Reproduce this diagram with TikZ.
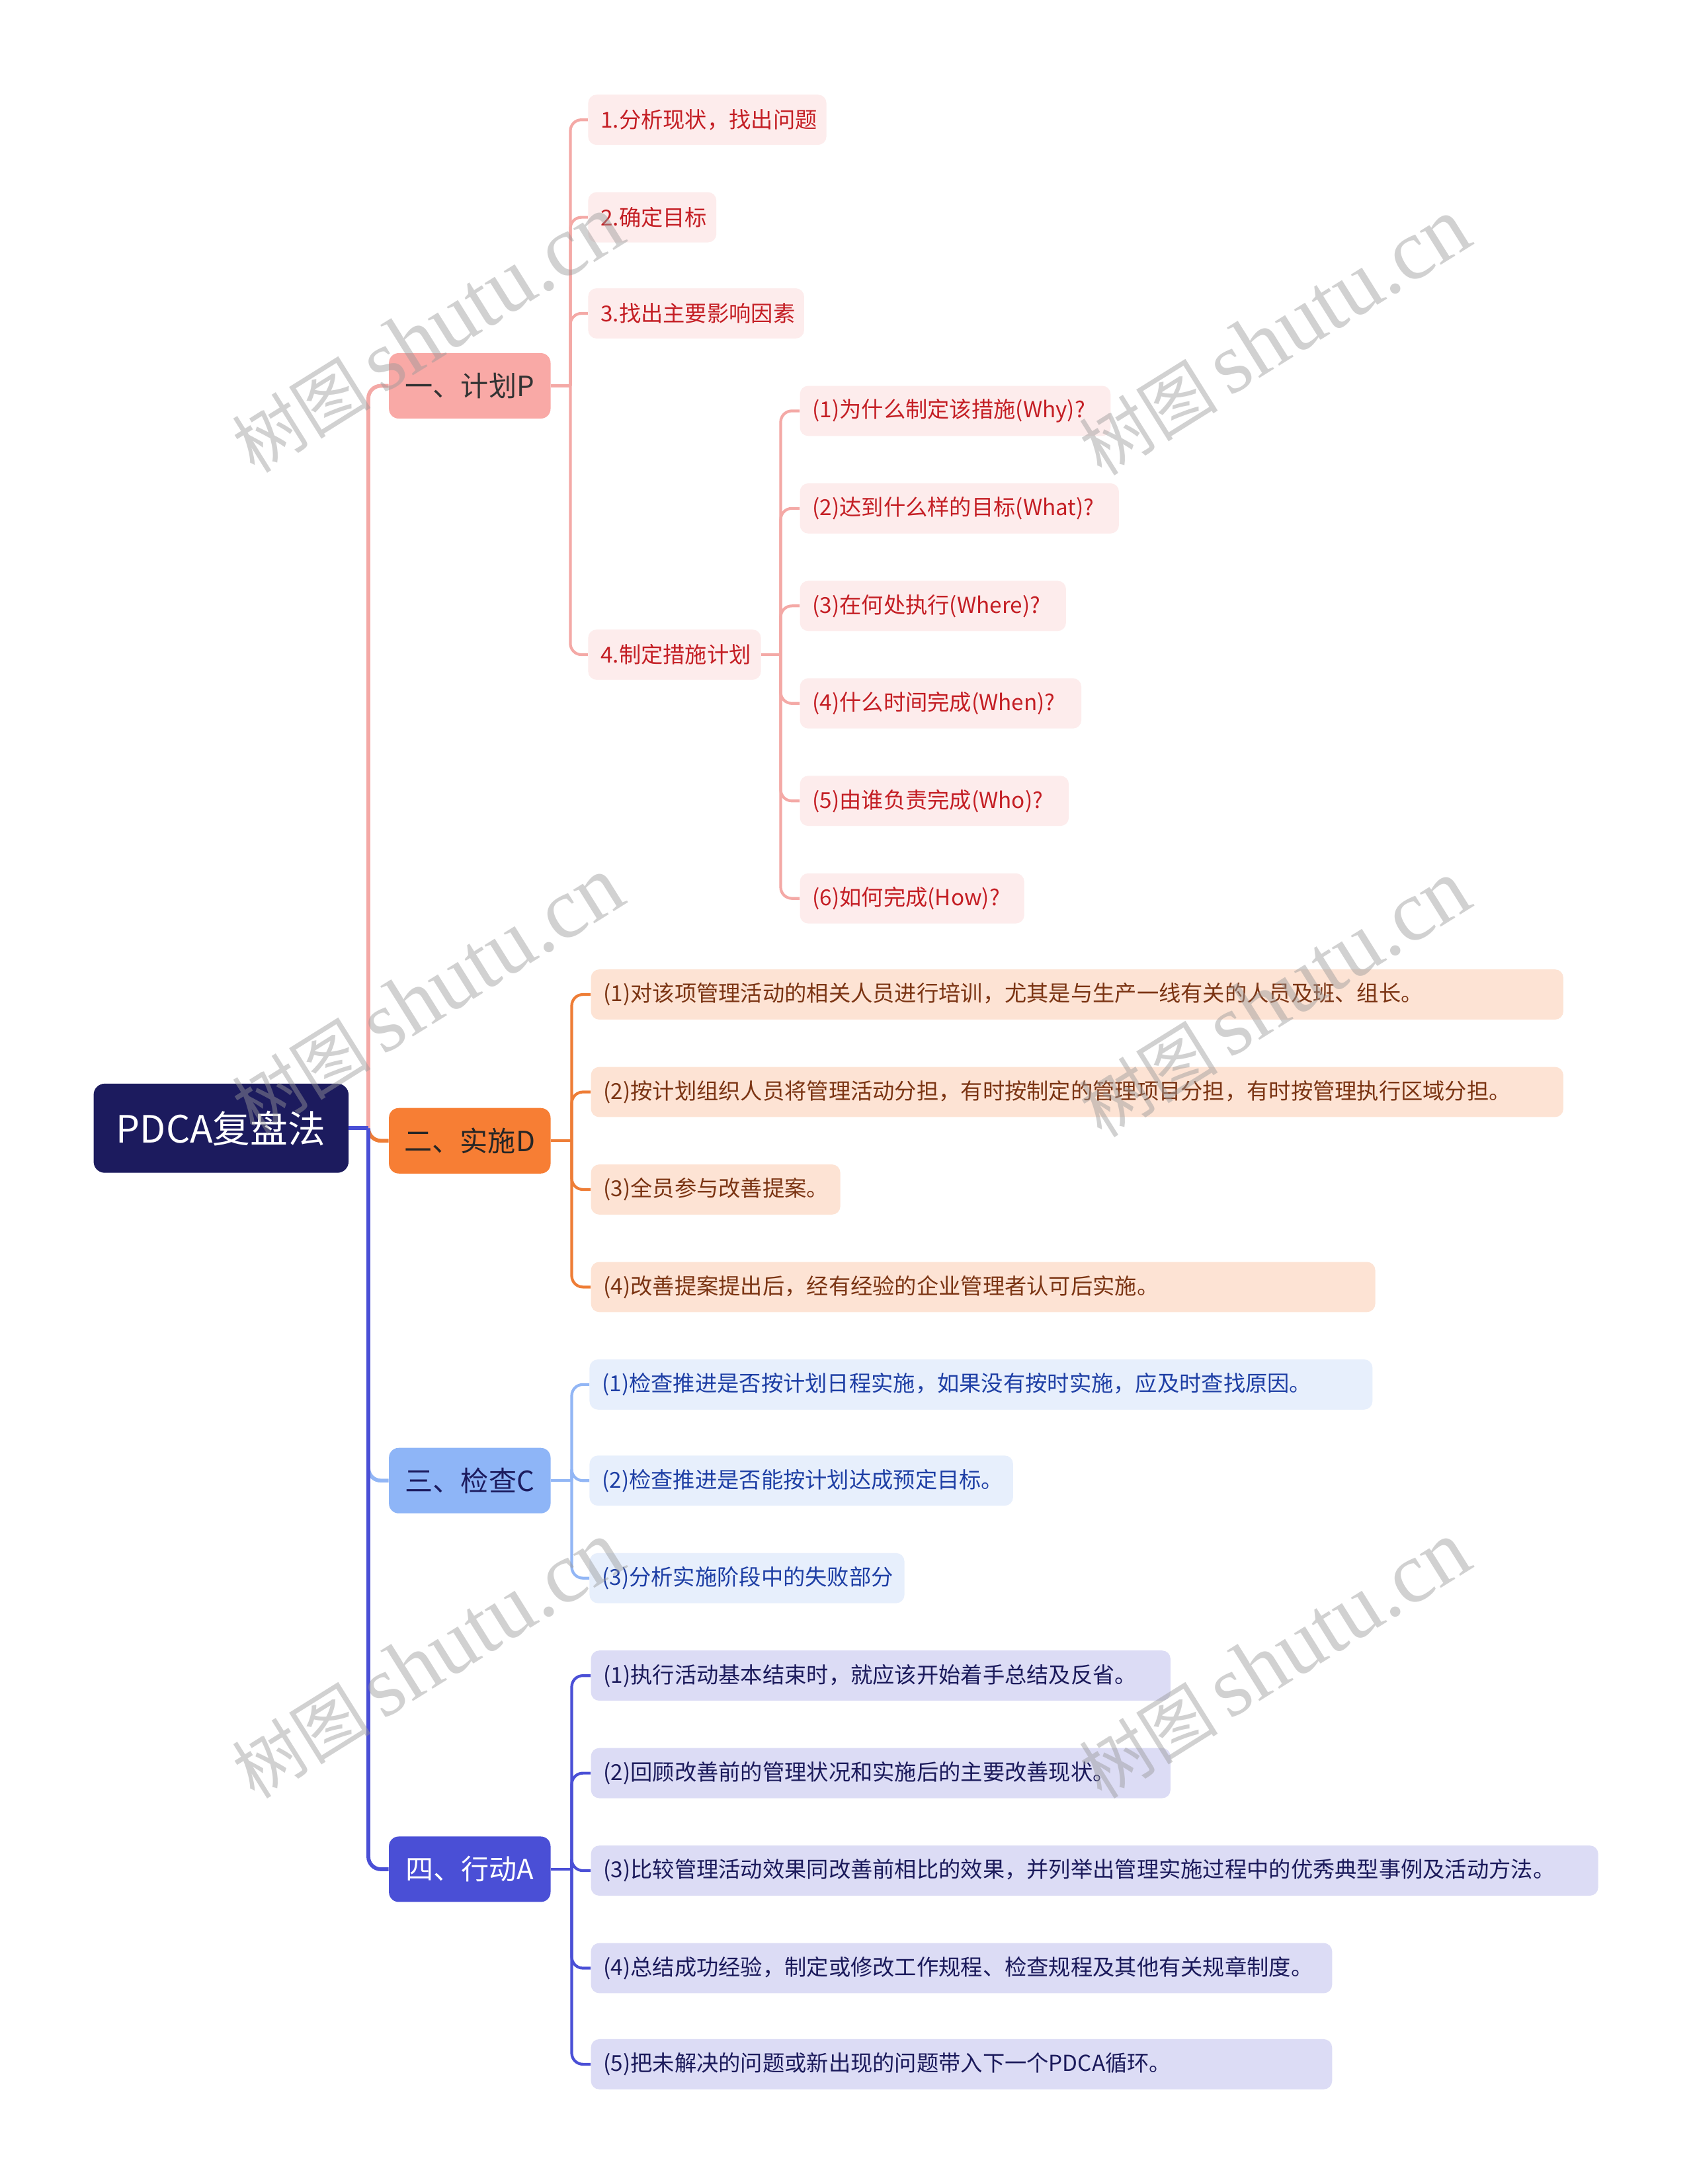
\documentclass[tikz,border=0pt]{standalone}
\usepackage{fontspec}
\setmainfont{Noto Sans CJK SC}
\newfontfamily\wmlatin{Liberation Serif}
\usepackage{tikz}
\usetikzlibrary{positioning, calc}

\definecolor{rootC}{HTML}{1C1B5E}
\definecolor{planC}{HTML}{F9A9A6}
\definecolor{planL}{HTML}{F4A9A6}
\definecolor{planF}{HTML}{FDECEC}
\definecolor{planT}{HTML}{C41E24}
\definecolor{doC}{HTML}{F77E34}
\definecolor{doL}{HTML}{EE7D36}
\definecolor{doF}{HTML}{FDE3D4}
\definecolor{doT}{HTML}{7B3413}
\definecolor{checkC}{HTML}{8EB5F7}
\definecolor{checkL}{HTML}{92B6F5}
\definecolor{checkF}{HTML}{E7EFFC}
\definecolor{checkT}{HTML}{1E3FA5}
\definecolor{actC}{HTML}{4A4FD6}
\definecolor{actL}{HTML}{4A4FD6}
\definecolor{actF}{HTML}{DCDCF5}
\definecolor{actT}{HTML}{1B1A5B}

\tikzstyle{rootnode} = [
  rectangle, rounded corners=8pt, fill=rootC, text=white,
  font=\fontsize{27}{32}\selectfont, minimum width=183pt, minimum height=64pt,
  inner xsep=14pt, anchor=west
]
\tikzstyle{topic} = [
  rectangle, rounded corners=7pt, font=\fontsize{20}{24}\selectfont,
  minimum width=116pt, minimum height=47pt, inner xsep=11pt, anchor=west
]
\tikzstyle{leaf} = [
  rectangle, rounded corners=6pt, font=\fontsize{15.8}{18}\selectfont,
  minimum height=36pt, inner xsep=9pt, inner ysep=0pt, align=left, anchor=west
]
\tikzstyle{planleaf} = [leaf, fill=planF, text=planT]
\tikzstyle{doleaf} = [leaf, fill=doF, text=doT]
\tikzstyle{checkleaf} = [leaf, fill=checkF, text=checkT]
\tikzstyle{actleaf} = [leaf, fill=actF, text=actT]
\tikzstyle{trunk} = [line width=2.75pt, rounded corners=9pt]
\tikzstyle{link} = [line width=2pt, rounded corners=8pt]
\tikzstyle{watermark} = [rotate=32, text=black!40, text opacity=0.45]

\begin{document}
\begin{tikzpicture}[x=1pt, y=-1pt]

  \fill[white] (0,0) rectangle (1215,1568);
  \useasboundingbox (0,0) rectangle (1215,1568);

  % Root and topics
  \node[rootnode] (root) at (67, 810) {PDCA复盘法};
  \node[topic, fill=planC, text=black!80] (plan) at (279, 277) {一、计划P};
  \node[topic, fill=doC, text=black!85] (do) at (279, 819) {二、实施D};
  \node[topic, fill=checkC, text=rootC] (check) at (279, 1063) {三、检查C};
  \node[topic, fill=actC, text=white] (act) at (279, 1342) {四、行动A};

  % Plan
  \node[planleaf, text width=153pt] (p1) at (422, 86) {1.分析现状，找出问题};
  \node[planleaf, text width=74pt] (p2) at (422, 156) {2.确定目标};
  \node[planleaf, text width=137pt] (p3) at (422, 225) {3.找出主要影响因素};
  \node[planleaf, text width=106pt] (p4) at (422, 470) {4.制定措施计划};

  \node[planleaf, text width=205pt] (w1) at (574, 295) {(1)为什么制定该措施(Why)?};
  \node[planleaf, text width=211pt] (w2) at (574, 365) {(2)达到什么样的目标(What)?};
  \node[planleaf, text width=173pt] (w3) at (574, 435) {(3)在何处执行(Where)?};
  \node[planleaf, text width=184pt] (w4) at (574, 505) {(4)什么时间完成(When)?};
  \node[planleaf, text width=175pt] (w5) at (574, 575) {(5)由谁负责完成(Who)?};
  \node[planleaf, text width=143pt] (w6) at (574, 645) {(6)如何完成(How)?};

  % Do
  \node[doleaf, text width=680pt] (d1) at (424, 714) {(1)对该项管理活动的相关人员进行培训，尤其是与生产一线有关的人员及班、组长。};
  \node[doleaf, text width=680pt] (d2) at (424, 784) {(2)按计划组织人员将管理活动分担，有时按制定的管理项目分担，有时按管理执行区域分担。};
  \node[doleaf, text width=161pt] (d3) at (424, 854) {(3)全员参与改善提案。};
  \node[doleaf, text width=545pt] (d4) at (424, 924) {(4)改善提案提出后，经有经验的企业管理者认可后实施。};

  % Check
  \node[checkleaf, text width=544pt] (c1) at (423, 994) {(1)检查推进是否按计划日程实施，如果没有按时实施，应及时查找原因。};
  \node[checkleaf, text width=286pt] (c2) at (423, 1063) {(2)检查推进是否能按计划达成预定目标。};
  \node[checkleaf, text width=208pt] (c3) at (423, 1133) {(3)分析实施阶段中的失败部分};

  % Act
  \node[actleaf, text width=398pt] (a1) at (424, 1203) {(1)执行活动基本结束时，就应该开始着手总结及反省。};
  \node[actleaf, text width=398pt] (a2) at (424, 1273) {(2)回顾改善前的管理状况和实施后的主要改善现状。};
  \node[actleaf, text width=705pt] (a3) at (424, 1343) {(3)比较管理活动效果同改善前相比的效果，并列举出管理实施过程中的优秀典型事例及活动方法。};
  \node[actleaf, text width=514pt] (a4) at (424, 1413) {(4)总结成功经验，制定或修改工作规程、检查规程及其他有关规章制度。};
  \node[actleaf, text width=514pt] (a5) at (424, 1482) {(5)把未解决的问题或新出现的问题带入下一个PDCA循环。};

  % Root branches
  \coordinate (rj) at ($(root.east)+(14,0)$);
  \draw[trunk, planL] (rj) |- (plan.west);
  \draw[trunk, doL] (rj) |- (do.west);
  \draw[trunk, checkL] (rj) |- (check.west);
  \draw[trunk, actL] (rj) |- (act.west);
  \draw[trunk, actL] (root.east) -- (rj);

  % Topic branches
  \coordinate (pj) at ($(plan.east)+(14,0)$);
  \draw[link, planL] (plan.east) -- (pj);
  \foreach \n in {p1,p2,p3,p4}
    \draw[link, planL] (pj) |- (\n.west);

  \coordinate (wj) at ($(p4.east)+(14,0)$);
  \draw[link, planL] (p4.east) -- (wj);
  \foreach \n in {w1,w2,w3,w4,w5,w6}
    \draw[link, planL] (wj) |- (\n.west);

  \coordinate (dj) at ($(do.east)+(15,0)$);
  \draw[link, doL] (do.east) -- (dj);
  \foreach \n in {d1,d2,d3,d4}
    \draw[link, doL] (dj) |- (\n.west);

  \coordinate (cj) at ($(check.east)+(15,0)$);
  \draw[link, checkL] (check.east) -- (cj);
  \foreach \n in {c1,c2,c3}
    \draw[link, checkL] (cj) |- (\n.west);

  \coordinate (aj) at ($(act.east)+(15,0)$);
  \draw[link, actL] (act.east) -- (aj);
  \foreach \n in {a1,a2,a3,a4,a5}
    \draw[link, actL] (aj) |- (\n.west);

  % Watermarks
  \foreach \x/\y [count=\i] in {307/240, 915/242, 307/715, 915/717, 307/1192, 915/1192}
    \node[watermark] (wm\i) at (\x, \y)
      {\fontsize{50}{56}\selectfont 树图\,{\wmlatin\fontsize{62}{68}\selectfont shutu.cn}};

\end{tikzpicture}
\end{document}
